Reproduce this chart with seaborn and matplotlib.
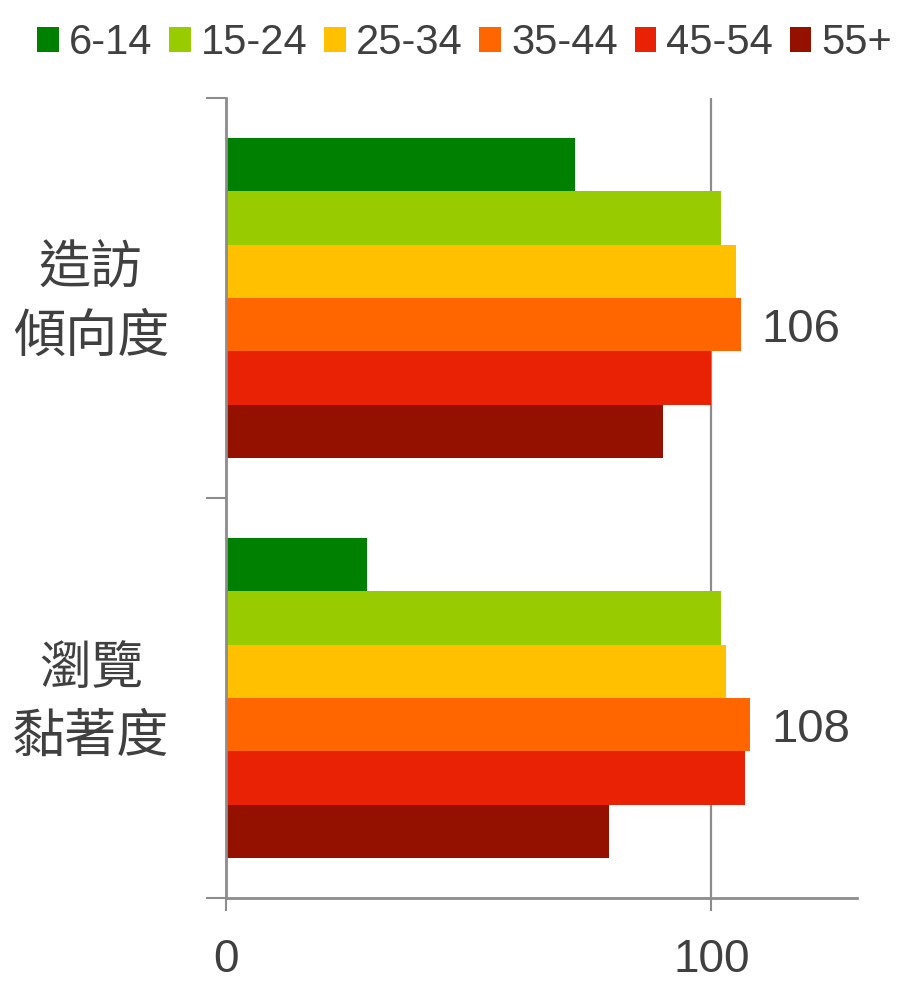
import pandas as pd
import matplotlib
matplotlib.use("Agg")
import matplotlib.pyplot as plt
import seaborn as sns

# chart data
categories = ["造訪\n傾向度", "瀏覽\n黏著度"]
age_groups = ["6-14", "15-24", "25-34", "35-44", "45-54", "55+"]
visit_index = [72, 102, 105, 106, 100, 90]
browse_index = [29, 102, 103, 108, 107, 79]
colors = ["#008000", "#99CC00", "#FFC000", "#FF6600", "#E92205", "#941100"]
x_ticks = [0, 100]

rows = []
for cat, vals in zip(categories, [visit_index, browse_index]):
    for age, v in zip(age_groups, vals):
        rows.append({"category": cat, "age": age, "value": v})
df = pd.DataFrame(rows)

sns.set_theme(style="white")
plt.rcParams["font.family"] = ["Liberation Sans", "Noto Sans CJK TC", "DejaVu Sans"]
text_color = "#404040"
line_color = "#8c8c8c"

fig = plt.figure(figsize=(9.06, 9.81), dpi=100)
ax = fig.add_axes([226 / 906, 1 - 898 / 981, 631 / 906, 800 / 981])

sns.barplot(data=df, y="category", x="value", hue="age", hue_order=age_groups,
            order=categories, palette=colors, saturation=1, width=0.8,
            orient="h", linewidth=0, ax=ax)

handles, labels = ax.get_legend_handles_labels()
ax.get_legend().remove()

# value label only on the 35-44 bars
texts = ax.bar_label(ax.containers[3], fmt="%d", padding=15, fontsize=34, color=text_color)
for t in texts:
    t.set_va("center_baseline")

ax.set_xlim(0, 130)
ax.set_ylim(1.5, -0.5)
ax.set_xlabel("")
ax.set_ylabel("")

sns.despine(ax=ax, top=True, right=True)
for side in ["left", "bottom"]:
    ax.spines[side].set_color(line_color)
    ax.spines[side].set_linewidth(2)

ax.set_xticks(x_ticks)
ax.set_xticklabels([str(t) for t in x_ticks], fontsize=33, color=text_color)
ax.tick_params(axis="x", which="major", bottom=True, length=9.5, width=1.5,
               color=line_color, pad=19)
ax.xaxis.grid(True, color=line_color, linewidth=1.6)
ax.set_axisbelow(True)

# category labels, centred to the left of the axis
ax.set_yticks([0, 1])
ax.set_yticklabels([])
ax.tick_params(axis="y", which="major", left=False, length=0)
for i, cat in enumerate(categories):
    ax.text(-0.214, i + 0.015, cat, transform=ax.get_yaxis_transform(),
            ha="center", va="center", multialignment="center",
            linespacing=1.5, fontsize=37.5, color=text_color)
ax.set_yticks([-0.5, 0.5, 1.5], minor=True)
ax.tick_params(axis="y", which="minor", left=True, length=14.4, width=1.5,
               color=line_color)

fig.legend(handles, labels, loc="center", bbox_to_anchor=(0.513, 0.956),
           ncol=6, frameon=False, fontsize=30, labelcolor=text_color,
           handlelength=0.52, handleheight=0.52, handletextpad=0.24,
           columnspacing=0.4, borderaxespad=0)

fig.savefig("out.png", dpi=100)
